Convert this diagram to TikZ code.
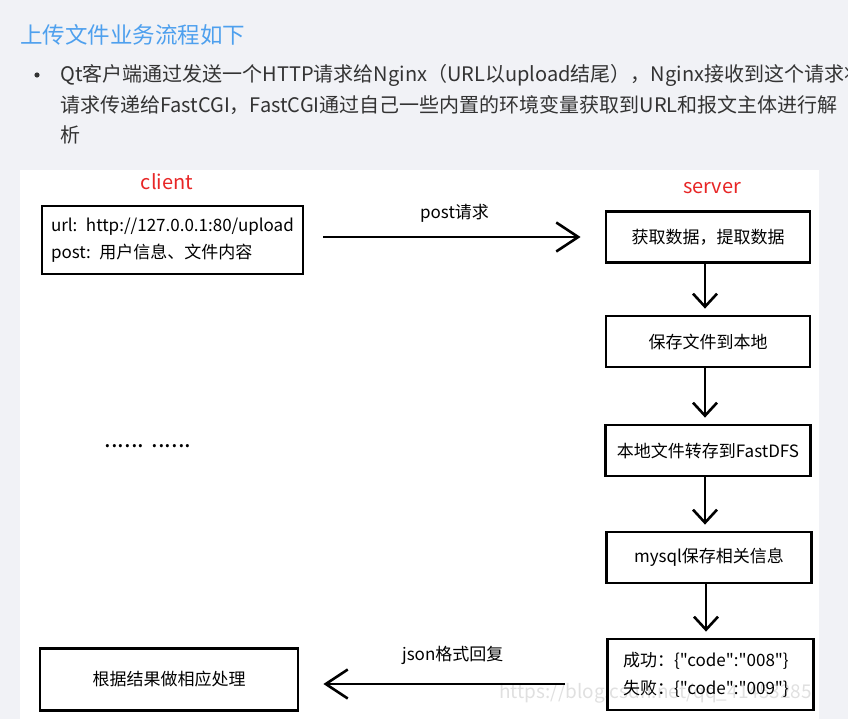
\documentclass[tikz,border=0pt]{standalone}
\usepackage{fontspec}
\setmainfont{Noto Sans CJK SC}
\newfontfamily\codefont{Noto Sans CJK SC}
\usetikzlibrary{arrows.meta,positioning}

\definecolor{pagebg}{RGB}{241,242,246}
\definecolor{titleblue}{RGB}{78,160,238}
\definecolor{bodygray}{RGB}{51,51,51}
\definecolor{sidered}{RGB}{232,38,38}

\newcommand\fsz[2]{\fontsize{#1}{#2}\selectfont}

\begin{document}
\begin{tikzpicture}[
  x=1pt, y=-1pt,
  every node/.style={inner sep=0pt},
  stepbox/.style={draw, line width=2.8pt, minimum width=205pt,
    minimum height=51pt, font=\fsz{17}{27}},
  flow/.style={line width=2.6pt, -{Straight Barb[length=13pt,width=24pt]}},
  sideflow/.style={line width=2.6pt, -{Straight Barb[length=22pt,width=29pt]}},
  side/.style={text=sidered, font=\fsz{20}{24}},
  para/.style={anchor=west, text=bodygray, font=\fsz{20}{30}}
]
\useasboundingbox (0,0) rectangle (848,719);
\fill[pagebg] (0,0) rectangle (848,719);
\fill[white] (20,170) rectangle (819,719);

% heading and text above the picture
\node[anchor=west, text=titleblue, font=\fsz{22.5}{26}] (title) at (20,35)
  {上传文件业务流程如下};
\fill[bodygray] (37,75) circle (2.6pt);
\begin{scope}
\clip (0,0) rectangle (848,719);
\node[para] (line1) at (60,75)
  {Qt客户端通过发送一个HTTP请求给Nginx（URL以upload结尾），Nginx接收到这个请求将};
\node[para] (line2) at (60,105)
  {请求传递给FastCGI，FastCGI通过自己一些内置的环境变量获取到URL和报文主体进行解};
\node[para] (line3) at (60,135) {析};
\end{scope}

% client side
\node[side] (client) at (167,182) {client};
\node[stepbox, minimum width=261pt, minimum height=68pt, align=left,
  text width=243pt] (cli) at (172.5,240)
  {url: http://127.0.0.1:80/upload\\post: 用户信息、文件内容};
\node[font=\fsz{24}{24}] (dots) at (148,446) {...... ......};
\node[stepbox, minimum width=258pt, minimum height=62pt] (handle)
  at (169,679.5) {根据结果做相应处理};

% server side
\node[side] (server) at (712,188) {server};
\node[stepbox, minimum width=204pt] (get) at (708,237) {获取数据，提取数据};
\node[stepbox, minimum width=204pt] (save) at (708,341.5) {保存文件到本地};
\node[stepbox] (fdfs) at (708,450.5) {本地文件转存到FastDFS};
\node[stepbox] (mysql) at (709,557.5) {mysql保存相关信息};
\node[stepbox, minimum width=206pt, minimum height=71pt, align=left,
  text width=175pt, font=\codefont\fsz{17}{28}] (res) at (710.5,674.5)
  {成功：\{"code":"008"\}\\失败：\{"code":"009"\}};

% connectors
\draw[sideflow, shorten <=19pt, shorten >=24pt] (cli.east |- get.west) -- (get.west)
  node[midway, above=13pt, font=\fsz{17}{20}] (post) {post请求};
\foreach \from/\to in {get/save, save/fdfs, fdfs/mysql, mysql/res}
  \draw[flow, shorten >=6pt] ([xshift=-3pt]\from.south) -- ([xshift=-3pt]\from.south |- \to.north);
\coordinate (jsonfrom) at ([yshift=-9.5pt]res.west);
\draw[sideflow, shorten <=41pt, shorten >=24pt] (jsonfrom) -- (jsonfrom -| handle.east)
  node[midway, above=18pt, font=\fsz{17}{20}] (json) {json格式回复};

% watermark
\node[anchor=east, text=black, opacity=0.12, font=\fsz{19}{24}] (mark)
  at (812,693) {https://blog.csdn.net/qq\_41453285};
\end{tikzpicture}
\end{document}
